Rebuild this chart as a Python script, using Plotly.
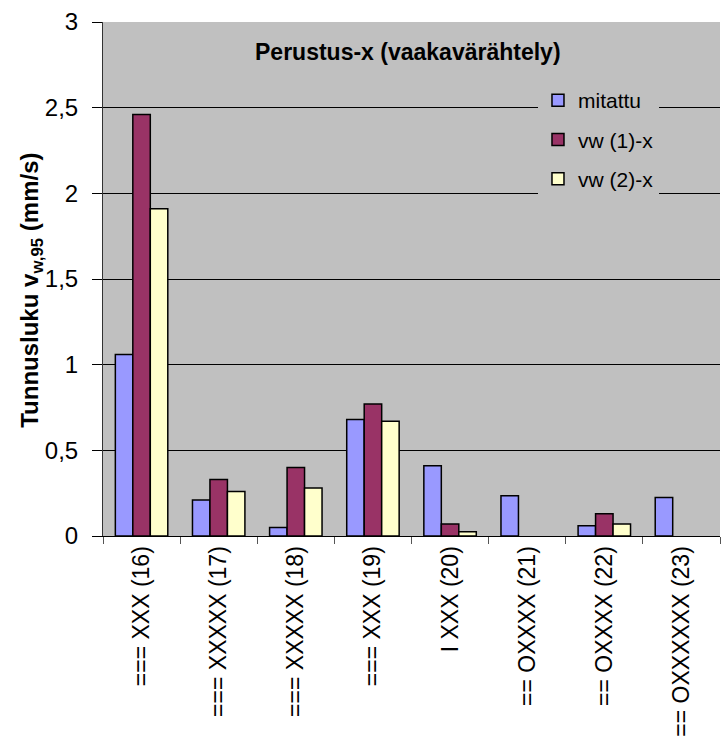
import plotly.graph_objects as go

# Measurement points along the x-axis
categories = ["=== XXX (16)", "=== XXXXX (17)", "=== XXXXX (18)", "=== XXX (19)",
              "I XXX (20)", "== OXXXX (21)", "== OXXXX (22)", "== OXXXXXX (23)"]

# Characteristic vibration velocity v_w,95 (mm/s)
mitattu = [1.06, 0.21, 0.05, 0.68, 0.41, 0.235, 0.06, 0.225]
vw1_x = [2.46, 0.33, 0.40, 0.77, 0.07, None, 0.13, None]
vw2_x = [1.91, 0.26, 0.28, 0.67, 0.025, None, 0.07, None]

series = [
    ("mitattu", mitattu, "#9999FF"),
    ("vw (1)-x", vw1_x, "#993366"),
    ("vw (2)-x", vw2_x, "#FFFFCC"),
]

FONT = "Liberation Sans, Arial, sans-serif"

fig = go.Figure()
for i, (name, vals, color) in enumerate(series):
    fig.add_trace(go.Bar(
        x=categories, y=vals, name=name,
        legendgroup=f"g{i}",
        marker=dict(color=color, line=dict(color="black", width=1.5)),
    ))

fig.update_layout(
    width=725, height=742,
    margin=dict(l=103, r=5, t=22, b=204),
    paper_bgcolor="white",
    plot_bgcolor="#C0C0C0",
    barmode="group",
    bargap=0.32,
    bargroupgap=0,
    separators=", ",
    font=dict(family=FONT, color="black", size=20),
    showlegend=True,
    legend=dict(
        x=0.705, y=0.887, xanchor="left", yanchor="top",
        bgcolor="#C0C0C0", borderwidth=0,
        font=dict(family=FONT, size=21, color="black"),
        tracegroupgap=9,
    ),
    annotations=[
        dict(
            text="<b>Perustus-x (vaakavärähtely)</b>",
            xref="paper", yref="paper", x=0.495, y=0.942,
            xanchor="center", yanchor="middle", showarrow=False,
            font=dict(family=FONT, size=23, color="black"),
        ),
        dict(
            text="<b>Tunnusluku v<sub>w,95</sub> (mm/s)</b>",
            xref="paper", yref="paper", x=0, y=0.477, xshift=-71,
            xanchor="center", yanchor="middle", showarrow=False,
            textangle=-90,
            font=dict(family=FONT, size=24, color="black"),
        ),
    ],
)

fig.update_xaxes(
    tickangle=-90,
    tickfont=dict(family=FONT, size=23),
    showline=True, linecolor="black", linewidth=1,
    ticks="outside", tickson="boundaries", ticklen=7, tickcolor="#555555",
    showgrid=False,
)

fig.update_yaxes(
    range=[0, 3], dtick=0.5,
    tickfont=dict(family=FONT, size=24),
    ticklabelstandoff=9,
    showline=True, linecolor="#333333", linewidth=1,
    ticks="outside", ticklen=10, tickcolor="black",
    showgrid=True, gridcolor="black", gridwidth=1,
    zeroline=False,
)

fig.write_html("out.html")
